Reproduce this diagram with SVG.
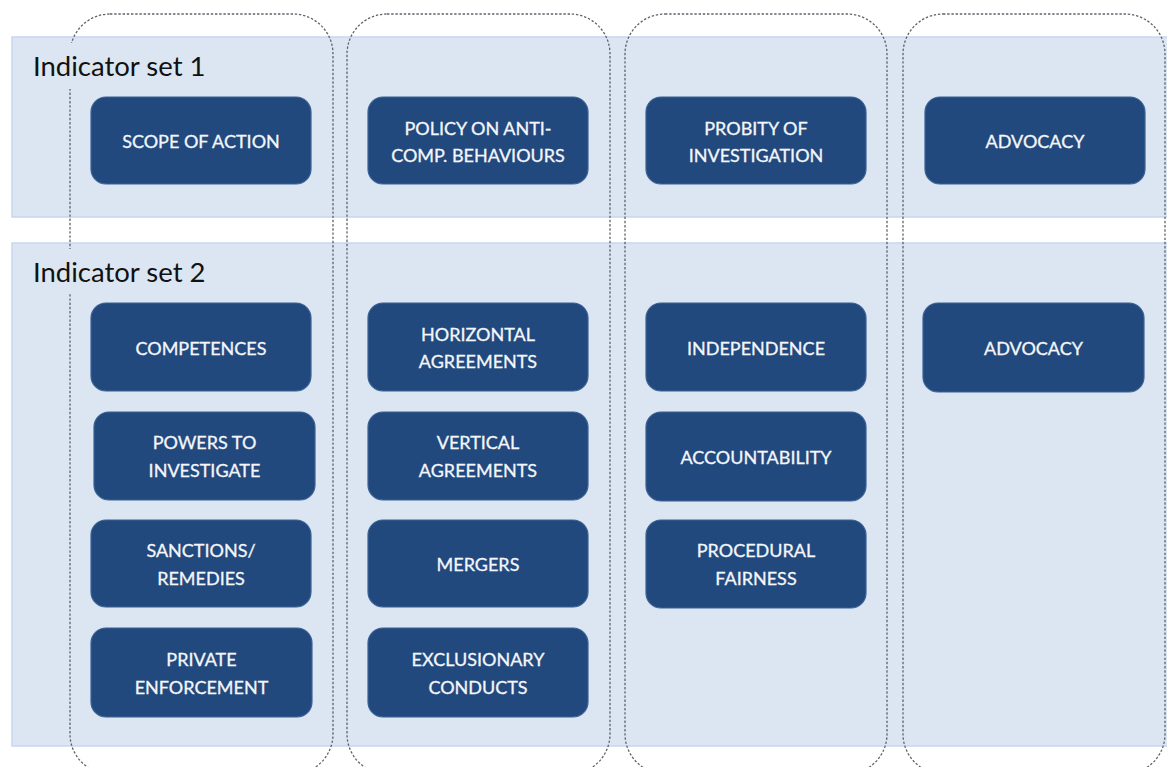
<svg xmlns="http://www.w3.org/2000/svg" width="1167" height="767" viewBox="0 0 1167 767">
<style>
.band{fill:#dce6f2;stroke:#c6d7ee;stroke-width:1.5}
.cover{fill:#dce6f2;stroke:none}
.col{fill:none;stroke:#5f636c;stroke-width:1.3;stroke-dasharray:2.4 1.8}
.box{fill:#22497d;stroke:#3b6194;stroke-width:1.2}
.t{font-family:Lato,"Open Sans","Liberation Sans",sans-serif;font-size:18px;fill:#f4f6fa;stroke:#f4f6fa;stroke-width:0.3;text-anchor:middle}
.h{font-family:Lato,"Open Sans","Liberation Sans",sans-serif;font-size:27.5px;fill:#111111}
</style>
<rect width="1167" height="767" fill="#ffffff"/>
<g id="bands">
<rect class="band" x="12" y="37" width="1160" height="180"/>
<rect class="band" x="12" y="243" width="1160" height="503"/>
</g>
<g id="columns">
<rect class="col" x="70" y="14" width="263" height="760" rx="40" ry="40"/>
<rect class="col" x="347" y="14" width="263" height="760" rx="40" ry="40"/>
<rect class="col" x="625" y="14" width="262" height="760" rx="40" ry="40"/>
<rect class="col" x="903" y="14" width="262" height="760" rx="40" ry="40"/>
</g>
<g id="labels">
<rect class="cover" x="28" y="43" width="184" height="46"/>
<rect class="cover" x="28" y="249" width="184" height="45"/>
<text class="h" x="33" y="76">Indicator set 1</text>
<text class="h" x="33" y="282">Indicator set 2</text>
</g>
<g id="connectors"></g>
<g id="n-scope"><rect class="box" x="91" y="97" width="220" height="87" rx="15"/><text class="t" x="201" y="148">SCOPE OF ACTION</text></g>
<g id="n-policy"><rect class="box" x="368" y="97" width="220" height="87" rx="15"/><text class="t" x="478" y="135">POLICY ON ANTI-</text><text class="t" x="478" y="162">COMP. BEHAVIOURS</text></g>
<g id="n-probity"><rect class="box" x="646" y="97" width="220" height="87" rx="15"/><text class="t" x="756" y="135">PROBITY OF</text><text class="t" x="756" y="162">INVESTIGATION</text></g>
<g id="n-advocacy1"><rect class="box" x="925" y="97" width="220" height="87" rx="15"/><text class="t" x="1035" y="148">ADVOCACY</text></g>
<g id="n-competences"><rect class="box" x="91" y="303" width="220" height="88" rx="15"/><text class="t" x="201" y="355">COMPETENCES</text></g>
<g id="n-powers"><rect class="box" x="94" y="412" width="221" height="88" rx="15"/><text class="t" x="204.5" y="449">POWERS TO</text><text class="t" x="204.5" y="476.5">INVESTIGATE</text></g>
<g id="n-sanctions"><rect class="box" x="91" y="520" width="220" height="87" rx="15"/><text class="t" x="201" y="557">SANCTIONS/</text><text class="t" x="201" y="584.5">REMEDIES</text></g>
<g id="n-private"><rect class="box" x="91" y="628" width="221" height="89" rx="15"/><text class="t" x="201.5" y="666">PRIVATE</text><text class="t" x="201.5" y="693.5">ENFORCEMENT</text></g>
<g id="n-horizontal"><rect class="box" x="368" y="303" width="220" height="88" rx="15"/><text class="t" x="478" y="340.5">HORIZONTAL</text><text class="t" x="478" y="368">AGREEMENTS</text></g>
<g id="n-vertical"><rect class="box" x="368" y="412" width="220" height="88" rx="15"/><text class="t" x="478" y="449">VERTICAL</text><text class="t" x="478" y="476.5">AGREEMENTS</text></g>
<g id="n-mergers"><rect class="box" x="368" y="520" width="220" height="87" rx="15"/><text class="t" x="478" y="571">MERGERS</text></g>
<g id="n-exclusionary"><rect class="box" x="368" y="628" width="220" height="89" rx="15"/><text class="t" x="478" y="666">EXCLUSIONARY</text><text class="t" x="478" y="693.5">CONDUCTS</text></g>
<g id="n-independence"><rect class="box" x="646" y="303" width="220" height="88" rx="15"/><text class="t" x="756" y="355">INDEPENDENCE</text></g>
<g id="n-accountability"><rect class="box" x="646" y="412" width="220" height="89" rx="15"/><text class="t" x="756" y="464">ACCOUNTABILITY</text></g>
<g id="n-procedural"><rect class="box" x="646" y="520" width="220" height="88" rx="15"/><text class="t" x="756" y="557">PROCEDURAL</text><text class="t" x="756" y="584.5">FAIRNESS</text></g>
<g id="n-advocacy2"><rect class="box" x="923" y="303" width="221" height="89" rx="15"/><text class="t" x="1033.5" y="355">ADVOCACY</text></g>
</svg>
